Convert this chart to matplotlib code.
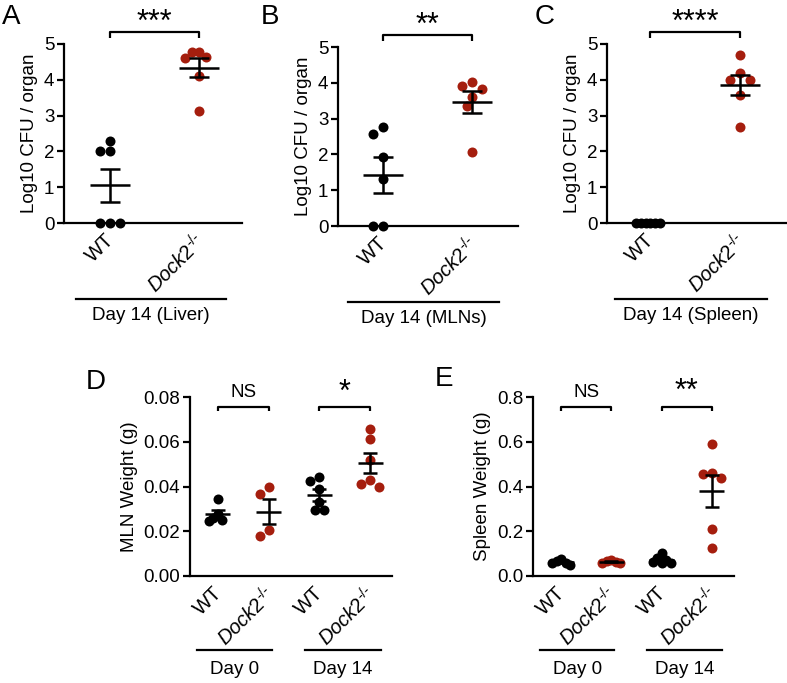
import numpy as np
import matplotlib
matplotlib.use("Agg")
import matplotlib.pyplot as plt
from matplotlib import transforms

plt.rcParams['font.family'] = ['Liberation Sans', 'DejaVu Sans']
plt.rcParams['mathtext.fontset'] = 'custom'
plt.rcParams['mathtext.rm'] = 'Liberation Sans'
plt.rcParams['mathtext.it'] = 'Liberation Sans:italic'

# ---------------- data ----------------
KO = '$\\it{Dock2}^{\\it{\u2010/\u2010}}$'
group_labels_2 = ['WT', KO]
group_labels_4 = ['WT', KO, 'WT', KO]

liver_wt = [0, 0, 0, 2.0, 2.0, 2.3]
liver_ko = [4.77, 4.6, 4.77, 4.65, 4.1, 3.13]
mln_wt = [2.77, 2.57, 1.93, 1.3, 0, 0]
mln_ko = [4.02, 3.84, 3.9, 3.6, 3.35, 2.07]
spleen_wt = [0, 0, 0, 0, 0, 0]
spleen_ko = [4.68, 4.19, 4.0, 4.0, 3.57, 2.69]

mlnw_wt_d0 = [0.0346, 0.0275, 0.026, 0.0245, 0.025]
mlnw_ko_d0 = [0.0398, 0.0366, 0.0205, 0.018]
mlnw_wt_d14 = [0.0443, 0.0424, 0.0387, 0.0332, 0.0294, 0.0294]
mlnw_ko_d14 = [0.0659, 0.0614, 0.0517, 0.0431, 0.041, 0.0399]

splw_wt_d0 = [0.06, 0.074, 0.05, 0.058, 0.065]
splw_ko_d0 = [0.057, 0.071, 0.065, 0.06, 0.062]
splw_wt_d14 = [0.104, 0.079, 0.064, 0.057, 0.07, 0.06]
splw_ko_d14 = [0.588, 0.455, 0.46, 0.437, 0.21, 0.123]

cfu_titles = ['Day 14 (Liver)', 'Day 14 (MLNs)', 'Day 14 (Spleen)']
cfu_stars = ['***', '**', '****']
day_titles = ['Day 0', 'Day 14']
mln_sig = ['NS', '*']
spl_sig = ['NS', '**']

BLACK = '#000000'
RED = '#A51E0E'
FS = 13.5
XFS = 14.5
STAR_FS = 22
W, H = 787, 683

fig = plt.figure(figsize=(W / 100, H / 100), dpi=100)


def add_ax(left, right, top, bottom):
    return fig.add_axes([left / W, 1 - bottom / H, (right - left) / W, (bottom - top) / H])


def style(ax):
    for s in ['top', 'right']:
        ax.spines[s].set_visible(False)
    for s in ['left', 'bottom']:
        ax.spines[s].set_linewidth(1.6)
    ax.tick_params(axis='y', length=5, width=1.6, labelsize=FS, pad=2)
    ax.tick_params(axis='x', length=0, labelsize=XFS, pad=5)


def swarm_offsets(ax, x0, vals, diam_px, maxw_px):
    pts = ax.transData.transform([(x0, v) for v in vals])
    ys = pts[:, 1]
    order = np.argsort(-np.array(vals), kind='stable')
    placed = []
    offs = np.zeros(len(vals))
    step = diam_px * 0.5
    for i in order:
        for k in range(0, 40):
            cands = [0.0] if k == 0 else [-k * step, k * step]
            ok = None
            for c in cands:
                if all(np.hypot(c - px, ys[i] - py) >= diam_px * 0.95 for px, py in placed):
                    ok = c
                    break
            if ok is not None:
                offs[i] = ok
                placed.append((ok, ys[i]))
                break
    m = np.max(np.abs(offs)) if len(offs) else 0
    if m > maxw_px:
        offs = offs * maxw_px / m
    pxu = ax.transData.transform([(1, 0)])[0][0] - ax.transData.transform([(0, 0)])[0][0]
    return offs / pxu, pxu


def plot_group(ax, x0, vals, color, diam_px=10, maxw_px=14, mean_half_px=20, cap_half_px=10):
    dx, pxu = swarm_offsets(ax, x0, vals, diam_px, maxw_px)
    v = np.array(vals, float)
    ax.scatter(x0 + dx, v, s=(diam_px * 0.72) ** 2, color=color, zorder=3,
               clip_on=False, linewidths=0)
    m = v.mean()
    sem = v.std(ddof=1) / np.sqrt(len(v))
    mh = mean_half_px / pxu
    ch = cap_half_px / pxu
    kw = dict(color='black', lw=1.8, zorder=4, solid_capstyle='butt')
    ax.plot([x0 - mh, x0 + mh], [m, m], **kw)
    if sem > 0:
        ax.plot([x0, x0], [m - sem, m + sem], **kw)
        ax.plot([x0 - ch, x0 + ch], [m + sem, m + sem], **kw)
        ax.plot([x0 - ch, x0 + ch], [m - sem, m - sem], **kw)


def bracket(ax, x1, x2, y, ydrop, text, fs, ytext):
    ax.plot([x1, x1, x2, x2], [y - ydrop, y, y, y - ydrop], color='black', lw=1.6,
            clip_on=False, zorder=5, solid_capstyle='butt')
    ax.text((x1 + x2) / 2, ytext, text, ha='center', va='center', fontsize=fs)


def group_line(ax, x1, x2, yfrac, text, ytext):
    tr = transforms.blended_transform_factory(ax.transData, ax.transAxes)
    ax.plot([x1, x2], [yfrac, yfrac], color='black', lw=1.6, transform=tr, clip_on=False)
    ax.text((x1 + x2) / 2, ytext, text, transform=tr, ha='center', va='center', fontsize=FS)


def set_xlabels(ax, labels):
    ax.set_xticks(range(len(labels)))
    ax.set_xticklabels(labels, rotation=45, ha='right', va='top', rotation_mode='anchor')
    off = transforms.ScaledTranslation(-4 / 72, 0, fig.dpi_scale_trans)
    for lab in ax.get_xticklabels():
        lab.set_transform(lab.get_transform() + off)


# ---------------- top row ----------------
top_specs = [
    (64, 242, 44, 223, (-0.52, 1.48), liver_wt, liver_ko),
    (338, 518, 47, 226, (-0.506, 1.517), mln_wt, mln_ko),
    (607, 787, 44, 223, (-0.48, 1.52), spleen_wt, spleen_ko),
]
for i, (l, r, t, b, xl, wt, ko) in enumerate(top_specs):
    ax = add_ax(l, r, t, b)
    style(ax)
    ax.set_xlim(*xl)
    ax.set_ylim(0, 5)
    ax.set_yticks(range(0, 6))
    set_xlabels(ax, group_labels_2)
    ax.set_ylabel('Log10 CFU / organ', fontsize=FS, labelpad=4)
    plot_group(ax, 0, wt, BLACK, maxw_px=14)
    plot_group(ax, 1, ko, RED, maxw_px=14)
    bracket(ax, 0, 1, 5.33, 0.15, cfu_stars[i], STAR_FS, 5.58)
    group_line(ax, -0.39, 1.30, -0.425, cfu_titles[i], -0.515)

# ---------------- bottom row ----------------
bot_specs = [
    (190, 392, 397, 576, (-0.55, 3.43), (0, 0.08), [0, 0.02, 0.04, 0.06, 0.08], '{:.2f}',
     'MLN Weight (g)', [mlnw_wt_d0, mlnw_ko_d0, mlnw_wt_d14, mlnw_ko_d14], mln_sig,
     0.0755, 0.0019, 0.082),
    (533, 734, 397, 576, (-0.56, 3.44), (0, 0.8), [0, 0.2, 0.4, 0.6, 0.8], '{:.1f}',
     'Spleen Weight (g)', [splw_wt_d0, splw_ko_d0, splw_wt_d14, splw_ko_d14], spl_sig,
     0.755, 0.019, 0.822),
]
for (l, r, t, b, xl, yl, yt, fmt, ylab, groups, sig, by, bd, bt) in bot_specs:
    ax = add_ax(l, r, t, b)
    style(ax)
    ax.set_xlim(*xl)
    ax.set_ylim(*yl)
    ax.set_yticks(yt)
    ax.set_yticklabels([fmt.format(v) for v in yt])
    set_xlabels(ax, group_labels_4)
    ax.set_ylabel(ylab, fontsize=FS, labelpad=4)
    for k, g in enumerate(groups):
        plot_group(ax, k, g, BLACK if k % 2 == 0 else RED, maxw_px=9,
                   mean_half_px=12.5, cap_half_px=7)
    bracket(ax, 0, 1, by, bd, sig[0], FS, bt)
    bracket(ax, 2, 3, by, bd, sig[1], STAR_FS if '*' in sig[1] else FS, bt)
    group_line(ax, -0.42, 1.06, -0.413, day_titles[0], -0.525)
    group_line(ax, 1.71, 3.21, -0.413, day_titles[1], -0.525)

# panel letters
for lab, x, y in [('A', 2, 4), ('B', 261, 4), ('C', 535, 4), ('D', 86, 369), ('E', 435, 366)]:
    fig.text(x / W, 1 - y / H, lab, fontsize=20, ha='left', va='top')

fig.savefig('out.png', dpi=100)
